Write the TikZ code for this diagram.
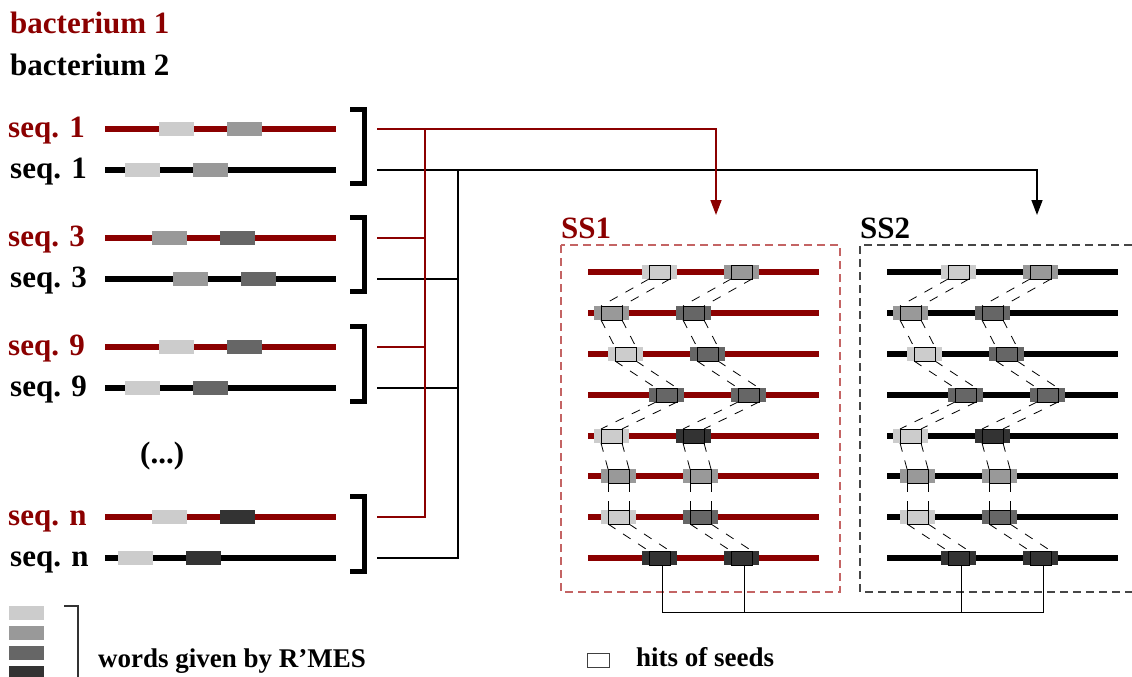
\documentclass[tikz,border=0pt]{standalone}
\usepackage{fontspec}
\setmainfont{Liberation Serif}
\usetikzlibrary{arrows.meta}
\definecolor{dred}{RGB}{139,0,0}
\definecolor{gL}{HTML}{CCCCCC}
\definecolor{gM}{HTML}{999999}
\definecolor{gD}{HTML}{666666}
\definecolor{gK}{HTML}{333333}
\definecolor{boxred}{RGB}{196,100,100}
\definecolor{boxgray}{RGB}{70,70,70}
\begin{document}
\begin{tikzpicture}[x=1pt,y=-1pt,
  lab/.style={anchor=base west,inner sep=0pt,font=\fontsize{31}{36}\selectfont\bfseries},
  leg/.style={anchor=base west,inner sep=0pt,font=\fontsize{27}{32}\selectfont\bfseries},
  seqline/.style={line width=6.5pt},
  word/.style={minimum width=35pt,minimum height=14pt,inner sep=0pt,outer sep=0pt,draw=none},
  hit/.style={minimum width=21pt,minimum height=14pt,inner sep=0pt,outer sep=0pt,draw=black,line width=0.9pt},
  brk/.style={line width=5pt,miter limit=10},
  link/.style={dash pattern=on 9pt off 9pt,line width=0.8pt},
  conn/.style={line width=1.5pt},
  tip/.style={-{Triangle[length=15pt,width=11pt]}},
  ]
\useasboundingbox (0,0) rectangle (1132,677);

% titles
\node[lab,text=dred] (bac1) at (10,34) {bacterium 1};
\node[lab] (bac2) at (10,75) {bacterium 2};

% sequences on the left
\foreach \nm/\y/\c/\t/\lx/\a/\ca/\b/\cb in {
  r1/129/dred/1/8/159/gL/227/gM,
  b1/170/black/1/10/125/gL/193/gM,
  r3/238/dred/3/8/152/gM/220/gD,
  b3/279/black/3/10/173/gM/241/gD,
  r9/347/dred/9/8/159/gL/227/gD,
  b9/388/black/9/10/125/gL/193/gD,
  rn/517/dred/n/8/152/gL/220/gK,
  bn/558/black/n/10/118/gL/186/gK}{
  \node[lab,text=\c] (lab\nm) at (\lx,\y+8) {seq. \t};
  \draw[seqline,\c] (105,\y) -- (336,\y);
  \node[word,fill=\ca,anchor=west] (wa\nm) at (\a,\y) {};
  \node[word,fill=\cb,anchor=west] (wb\nm) at (\b,\y) {};
}
\node[lab] (dots) at (140,463) {(...)};

% brackets
\foreach \nm/\t/\bt in {p1/109.5/183.5, p3/217.5/291.5, p9/326.5/401.5, pn/496.5/571.5}{
  \draw[brk] (350,\t) -- (364,\t) -- (364,\bt) -- (350,\bt);
}

% connector coordinates
\coordinate (cr1) at (377,129);
\coordinate (cb1) at (377,170);
\coordinate (cr3) at (377,238);
\coordinate (cb3) at (377,279);
\coordinate (cr9) at (377,347);
\coordinate (cb9) at (377,388);
\coordinate (crn) at (377,517);
\coordinate (cbn) at (377,558);
\coordinate (rbus) at (425,0);
\coordinate (bbus) at (458,0);
\coordinate (ss1in) at (716,215);
\coordinate (ss2in) at (1037,215);

% black connectors
\draw[conn,black] (cb3) -- (cb3 -| bbus);
\draw[conn,black] (cb9) -- (cb9 -| bbus);
\draw[conn,black] (cbn) -- (cbn -| bbus) -- (cb1 -| bbus);
\draw[conn,black,tip] (cb1) -| (ss2in);
% red connectors
\draw[conn,dred] (cr3) -- (cr3 -| rbus);
\draw[conn,dred] (cr9) -- (cr9 -| rbus);
\draw[conn,dred] (crn) -- (crn -| rbus) -- (cr1 -| rbus);
\draw[conn,dred,tip] (cr1) -| (ss1in);

% SS boxes
\node[lab,text=dred] (ss1) at (561,238) {SS1};
\node[lab] (ss2) at (860,238) {SS2};
\draw[boxred,line width=1.2pt,dash pattern=on 8pt off 5pt] (561,245) rectangle (840,592);
\draw[boxgray,line width=1.2pt,dash pattern=on 8pt off 5pt] (1132,245) -- (860,245) -- (860,592) -- (1132,592);

% SS rows
\foreach \s/\o/\lc in {1/0/dred, 2/299/black}{
  \foreach \i/\y/\ax/\ca/\cb in {
    1/272/659.5/gL/gM,
    2/313/611.5/gM/gD,
    3/354/625.5/gL/gD,
    4/395/666.5/gD/gD,
    5/436/611.5/gL/gK,
    6/476/618.5/gM/gM,
    7/517/618.5/gL/gD,
    8/558/659.5/gK/gK}{
    \draw[seqline,\lc] (588+\o,\y) -- (819+\o,\y);
    \node[word,fill=\ca] (w\s x\i a) at (\ax+\o,\y) {};
    \node[word,fill=\cb] (w\s x\i b) at (\ax+82+\o,\y) {};
    \node[hit] (h\s x\i a) at (\ax+\o,\y) {};
    \node[hit] (h\s x\i b) at (\ax+82+\o,\y) {};
  }
  \foreach \i in {1,...,7}{
    \pgfmathtruncatemacro\j{\i+1}
    \foreach \k in {a,b}{
      \draw[link] (h\s x\i \k.south west) -- (h\s x\j \k.north west);
      \draw[link] (h\s x\i \k.south east) -- (h\s x\j \k.north east);
    }
  }
}

% bottom bus
\coordinate (bus) at (0,612);
\draw[line width=1pt] ([xshift=2.5pt]h1x8a.south) |- ([xshift=2.5pt]h2x8b.south |- bus) -- ([xshift=2.5pt]h2x8b.south);
\draw[line width=1pt] ([xshift=2.5pt]h1x8b.south) -- ([xshift=2.5pt]h1x8b.south |- bus);
\draw[line width=1pt] ([xshift=2.5pt]h2x8a.south) -- ([xshift=2.5pt]h2x8a.south |- bus);

% legend
\node[word,fill=gL,anchor=north west] (lg1) at (9,606) {};
\node[word,fill=gM,anchor=north west] (lg2) at (9,626) {};
\node[word,fill=gD,anchor=north west] (lg3) at (9,646) {};
\node[word,fill=gK,anchor=north west] (lg4) at (9,666) {};
\draw[line width=1.3pt,gray!40!black] (64,606) -- (78,606) -- (78,680);
\node[leg] (legw) at (98,667) {words given by R'MES};
\node[hit,draw=gray!50!black,line width=1pt,minimum width=22pt] (lgh) at (598,660) {};
\node[leg] (legh) at (636,666) {hits of seeds};
\end{tikzpicture}
\end{document}
